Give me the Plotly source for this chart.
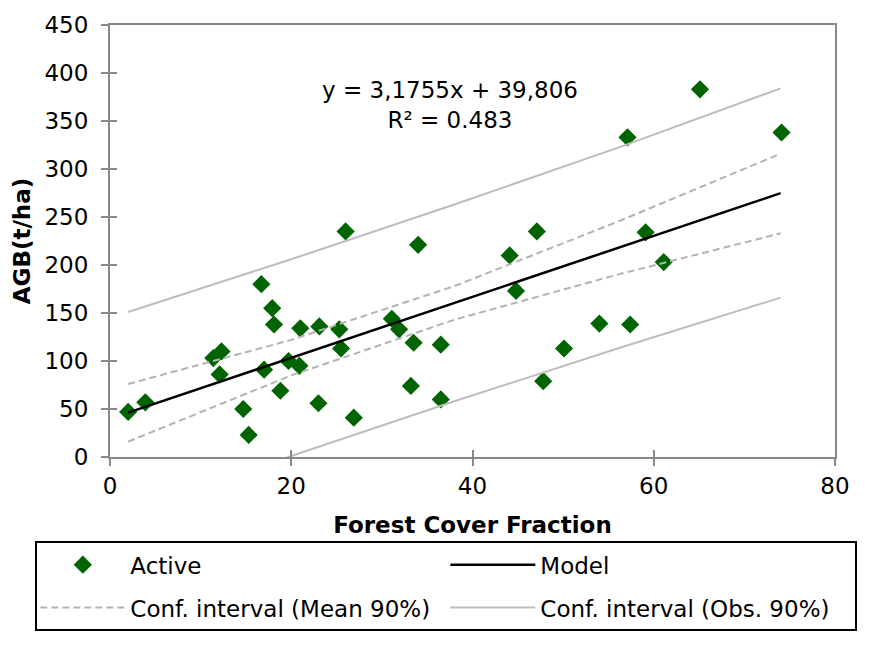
import plotly.graph_objects as go

# ---- data ----
forest_cover = [2.0, 3.9, 11.4, 12.3, 12.1, 14.7, 15.3, 16.7, 17.9, 18.1,
                17.0, 18.8, 19.7, 20.9, 21.0, 23.0, 23.1, 25.3, 25.5, 26.9,
                26.0, 34.0, 44.1, 47.1, 44.8, 31.1, 31.9, 33.5, 36.5, 50.1,
                33.2, 36.5, 47.8, 65.1, 57.1, 74.1, 59.1, 61.1, 54.0, 57.4]
agb = [47, 57, 103, 110, 86, 50, 23, 180, 155, 138,
       91, 69, 100, 95, 134, 56, 136, 133, 113, 41,
       235, 221, 210, 235, 173, 144, 133, 119, 117, 113,
       74, 60, 79, 383, 333, 338, 234, 203, 139, 138]

model_x = [2, 74]
model_y = [46.2, 274.8]

band_x = [2, 20, 38, 56, 74]
mean_upper = [76, 122, 178, 245, 316]
mean_lower = [16, 85, 143, 190, 233]
obs_upper = [151, 206, 263, 322, 384]
obs_lower = [-59, 1, 58, 113, 166]

x_ticks = [0, 20, 40, 60, 80]
y_ticks = [0, 50, 100, 150, 200, 250, 300, 350, 400, 450]

FONT = "DejaVu Sans"
FS = 23
AXIS_COL = "#888888"

fig = go.Figure()

fig.add_trace(go.Scatter(
    x=forest_cover, y=agb, mode="markers", name="Active",
    marker=dict(symbol="diamond", size=14, color="#006400"),
))
fig.add_trace(go.Scatter(
    x=model_x, y=model_y, mode="lines", name="Model",
    line=dict(color="black", width=2.5),
))
fig.add_trace(go.Scatter(
    x=band_x, y=mean_upper, mode="lines", name="Conf. interval (Mean 90%)",
    legendgroup="mean", line=dict(color="#b3b3b3", width=2, dash="7px,4px"),
))
fig.add_trace(go.Scatter(
    x=band_x, y=mean_lower, mode="lines", name="Conf. interval (Mean 90%)",
    legendgroup="mean", showlegend=False,
    line=dict(color="#b3b3b3", width=2, dash="7px,4px"),
))
fig.add_trace(go.Scatter(
    x=band_x, y=obs_upper, mode="lines", name="Conf. interval (Obs. 90%)",
    legendgroup="obs", line=dict(color="#bdbdbd", width=2),
))
fig.add_trace(go.Scatter(
    x=band_x, y=obs_lower, mode="lines", name="Conf. interval (Obs. 90%)",
    legendgroup="obs", showlegend=False,
    line=dict(color="#bdbdbd", width=2),
))
# empty trace to anchor the overlay axes used for the inner half of the crossing ticks
fig.add_trace(go.Scatter(x=[], y=[], xaxis="x2", yaxis="y2", showlegend=False,
                         hoverinfo="skip"))

fig.add_annotation(
    x=0.469, y=0.815, xref="paper", yref="paper",
    xanchor="center", yanchor="middle",
    text="y = 3,1755x + 39,806<br>R² = 0.483",
    showarrow=False, align="center",
    font=dict(family=FONT, size=FS, color="black"),
)

fig.update_layout(
    width=877, height=646,
    margin=dict(l=110, r=42, t=25, b=189),
    paper_bgcolor="white", plot_bgcolor="white",
    font=dict(family=FONT, size=FS, color="black"),
    showlegend=True,
    legend=dict(
        orientation="h", x=-0.103, y=-0.195, xanchor="left", yanchor="top",
        bordercolor="black", borderwidth=2, bgcolor="white",
        entrywidth=310, entrywidthmode="pixels", itemwidth=85,
        font=dict(family=FONT, size=FS, color="black"),
    ),
    xaxis=dict(
        range=[0, 80], tickvals=x_ticks, showgrid=False, zeroline=False,
        showline=True, linecolor=AXIS_COL, linewidth=2, mirror=True,
        ticks="outside", ticklen=7, tickwidth=2, tickcolor=AXIS_COL,
        tickfont=dict(family=FONT, size=FS, color="black"), automargin=False,
        title=dict(text="<b>Forest Cover Fraction</b>", standoff=19,
                   font=dict(family=FONT, size=FS, color="black")),
    ),
    yaxis=dict(
        range=[0, 450], tickvals=y_ticks, showgrid=False, zeroline=False,
        showline=True, linecolor=AXIS_COL, linewidth=2, mirror=True,
        ticks="outside", ticklen=7, tickwidth=2, tickcolor=AXIS_COL,
        ticklabelstandoff=8, automargin=False,
        tickfont=dict(family=FONT, size=FS, color="black"),
        title=dict(text="<b>AGB(t/ha)</b>", standoff=7,
                   font=dict(family=FONT, size=FS, color="black")),
    ),
    xaxis2=dict(
        overlaying="x", matches="x", anchor="y2", range=[0, 80], tickvals=x_ticks,
        showgrid=False, zeroline=False, showline=False, showticklabels=False,
        ticks="inside", ticklen=7, tickwidth=2, tickcolor=AXIS_COL, side="bottom",
        automargin=False,
    ),
    yaxis2=dict(
        overlaying="y", matches="y", anchor="x2", range=[0, 450], tickvals=y_ticks,
        showgrid=False, zeroline=False, showline=False, showticklabels=False,
        ticks="inside", ticklen=7, tickwidth=2, tickcolor=AXIS_COL, side="left",
        automargin=False,
    ),
)

fig.write_html("out.html", config={"displayModeBar": False},
               post_script="document.body.style.margin='0';")
